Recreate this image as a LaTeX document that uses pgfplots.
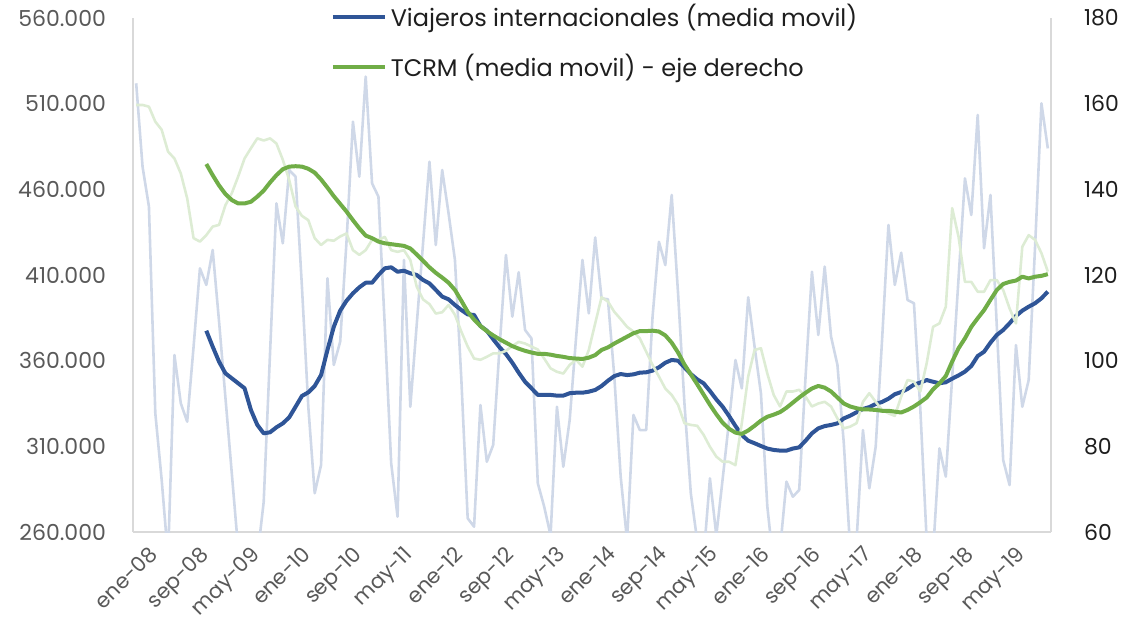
\documentclass[border=0pt]{standalone}
\usepackage{fontspec}
\setmainfont{Poppins}
\usepackage{pgfplots}
\pgfplotsset{compat=1.18}
\usepackage{pgfplotstable}

\definecolor{viaj}{RGB}{47,85,151}
\definecolor{tcrm}{RGB}{112,173,71}
\definecolor{viajraw}{RGB}{207,216,232}
\definecolor{tcrmraw}{RGB}{221,236,212}
\definecolor{axisgray}{RGB}{217,217,217}
\definecolor{ticktext}{RGB}{89,89,89}
\definecolor{legtext}{RGB}{30,30,30}

% monthly data, i = 0 is ene-08 ... i = 143 is dic-19
% v: viajeros internacionales, t: TCRM
\pgfplotstableread{
i v t
0 521900 159.7
1 473200 159.7
2 449900 159.3
3 329300 155.8
4 290400 153.9
5 245000 148.8
6 363300 147.2
7 335100 143.7
8 324400 137.9
9 368000 128.6
10 413900 127.8
11 404200 129.3
12 424600 131.3
13 382800 131.7
14 338400 136.3
15 294200 139.1
16 250000 143.0
17 232000 147.2
18 228000 149.6
19 245000 151.9
20 277500 151.4
21 364700 151.9
22 451800 150.7
23 428500 146.9
24 471300 142.2
25 467400 136.0
26 403200 133.8
27 333100 132.8
28 282600 128.6
29 299100 127.0
30 408100 128.2
31 357500 128.0
32 371100 129.0
33 430000 129.7
34 499500 125.8
35 467400 124.7
36 525800 125.8
37 463500 128.2
38 455700 128.2
39 380000 128.9
40 300100 125.8
41 268900 125.4
42 418800 125.8
43 333100 123.5
44 380800 117.3
45 428500 114.3
46 476100 113.2
47 427500 111.0
48 471300 111.3
49 446000 113.0
50 418800 110.7
51 349500 106.8
52 268000 103.3
53 263100 100.5
54 334100 100.2
55 301000 100.9
56 310800 101.7
57 367800 101.7
58 421700 102.3
59 385700 103.4
60 411600 104.4
61 377900 104.0
62 373000 103.3
63 288400 102.6
64 274800 100.5
65 258000 98.2
66 333100 97.4
67 298100 97.0
68 325400 99.0
69 373400 100.2
70 418800 98.6
71 387600 102.5
72 431900 108.7
73 396400 114.8
74 395800 113.8
75 350700 111.4
76 292300 109.7
77 255000 107.9
78 328300 106.8
79 319500 105.2
80 319500 102.1
81 385700 99.0
82 429400 96.3
83 415800 93.5
84 456700 92.0
85 399300 89.7
86 335100 85.4
87 282600 85.0
88 255000 84.8
89 245000 82.7
90 291300 79.9
91 258000 77.6
92 291100 76.4
93 324800 76.4
94 360400 75.6
95 343800 85.4
96 397000 96.3
97 368200 102.5
98 340900 102.9
99 275000 97.0
100 240000 92.0
101 250000 89.3
102 289400 92.8
103 280600 92.8
104 284500 93.2
105 350700 91.6
106 411900 89.3
107 375000 90.0
108 414900 90.4
109 374000 89.3
110 357500 86.5
111 311800 84.2
112 250000 84.6
113 255000 85.4
114 319500 90.4
115 285500 92.4
116 309800 90.4
117 372000 88.5
118 439200 87.7
119 404200 87.1
120 423000 91.6
121 395400 95.5
122 393500 95.1
123 331800 92.8
124 255000 99.4
125 248000 107.9
126 308800 108.7
127 292300 112.6
128 350300 135.6
129 408200 128.9
130 466400 118.4
131 445000 118.4
132 503400 116.1
133 425600 116.1
134 456700 118.8
135 379900 118.8
136 302000 116.5
137 287400 112.2
138 369100 108.7
139 333100 126.6
140 348700 129.3
141 426500 128.2
142 510200 125.1
143 483900 120.8
}\rawdata

% moving averages
\pgfplotstableread{
i mv mt
11 377500 145.9
12 368200 143.3
13 359400 140.9
14 352600 138.9
15 349700 137.5
16 346800 136.7
17 343900 136.7
18 331200 137.1
19 322500 138.3
20 317600 139.7
21 318200 141.6
22 321100 143.3
23 323400 144.7
24 326900 145.3
25 333100 145.4
26 339400 145.3
27 341500 144.8
28 345200 143.9
29 351600 142.3
30 366200 140.4
31 379800 138.4
32 389200 136.6
33 395000 134.8
34 399300 132.8
35 402800 130.9
36 405500 129.2
37 405500 128.6
38 410000 127.8
39 413900 127.4
40 414500 127.2
41 411900 127.0
42 412500 126.8
43 411000 126.2
44 410000 124.8
45 407100 123.3
46 405100 121.8
47 401300 120.5
48 397400 119.4
49 395800 118.2
50 392500 116.5
51 389600 114.0
52 387000 111.4
53 386700 109.6
54 380200 108.1
55 377500 106.9
56 372500 105.9
57 367800 105.0
58 363900 104.2
59 358800 103.4
60 353000 102.8
61 347700 102.3
62 343900 101.9
63 340000 101.6
64 340000 101.6
65 340000 101.4
66 339600 101.1
67 339600 100.9
68 341000 100.6
69 341300 100.5
70 341300 100.4
71 341900 100.7
72 342900 101.3
73 345200 102.5
74 348300 103.1
75 351000 104.0
76 352200 104.8
77 351600 105.6
78 352000 106.4
79 353000 106.9
80 353200 106.9
81 354200 107.0
82 356100 106.8
83 358800 105.9
84 360400 104.2
85 360000 101.9
86 356100 99.1
87 352200 96.8
88 349100 94.5
89 346800 92.1
90 342300 89.7
91 337400 87.5
92 333100 85.5
93 327700 84.1
94 321900 83.2
95 316600 82.9
96 313300 83.7
97 311800 84.8
98 310200 86.0
99 308700 86.9
100 307900 87.4
101 307500 88.0
102 307500 89.0
103 308700 90.2
104 309400 91.4
105 313300 92.5
106 317600 93.5
107 320500 94.1
108 321800 93.7
109 322500 92.8
110 323400 91.4
111 326300 90.0
112 327900 89.3
113 329900 88.9
114 331800 88.6
115 332900 88.6
116 334700 88.5
117 335900 88.3
118 337800 88.3
119 340400 88.1
120 341700 87.9
121 343500 88.5
122 346000 89.3
123 347200 90.3
124 348700 91.4
125 347700 93.3
126 346800 94.7
127 347400 96.4
128 349500 99.8
129 351400 102.9
130 353600 105.2
131 356900 107.9
132 362700 109.9
133 365200 111.8
134 370500 114.2
135 375000 116.5
136 377900 117.9
137 381800 118.4
138 386100 118.7
139 389200 119.6
140 391500 119.2
141 393500 119.6
142 396400 119.8
143 400300 120.2
}\madata

\pgfplotsset{
  base/.style={
    scale only axis,
    width=459pt, height=257pt,
    xmin=-0.5, xmax=143.5,
    axis line style={axisgray, line width=0.8pt, -},
    major tick length=0pt,
    tick label style={font=\fontsize{11}{13}\selectfont},
    /pgf/number format/assume math mode=true,
  },
}

\begin{document}
\begin{tikzpicture}
\useasboundingbox (-66.5pt,-45pt) rectangle (498.5pt,266pt);

% left axis: viajeros
\begin{axis}[base,
    axis x line*=bottom, axis y line*=left,
    ymin=260000, ymax=560000,
    ytick={260000,310000,360000,410000,460000,510000,560000},
    scaled y ticks=false,
    yticklabel style={ticktext, anchor=east, xshift=-10pt,
      /pgf/number format/.cd, fixed, precision=0, 1000 sep={.}},
    xtick={0,8,...,136},
    xticklabels={ene-08,sep-08,may-09,ene-10,sep-10,may-11,ene-12,sep-12,may-13,
      ene-14,sep-14,may-15,ene-16,sep-16,may-17,ene-18,sep-18,may-19},
    x tick label style={ticktext, font=\fontsize{10.5}{12}\selectfont,
      rotate=45, anchor=north east, xshift=3pt, yshift=-5pt},
  ]
  \addplot[viajraw, line width=1.3pt, line join=round] table[x=i, y=v] {\rawdata};
  \addplot[viaj, line width=2pt, line join=round] table[x=i, y=mv] {\madata};
\end{axis}

% right axis: TCRM
\begin{axis}[base,
    axis y line*=right, hide x axis,
    ymin=60, ymax=180,
    ytick={60,80,...,180},
    yticklabel style={legtext, anchor=west, xshift=13pt},
    legend style={at={(0.215,1.035)}, anchor=north west, draw=none, fill=none,
      font=\fontsize{12}{14}\selectfont, text=legtext, row sep=8pt,
      inner sep=0pt},
    legend cell align=left,
    legend image code/.code={\draw[#1] (0pt,0pt) -- (26pt,0pt);},
  ]
  \addlegendimage{viaj, line width=2pt}
  \addlegendentry{Viajeros internacionales (media movil)}
  \addplot[tcrmraw, line width=1.3pt, line join=round, forget plot] table[x=i, y=t] {\rawdata};
  \addplot[tcrm, line width=2pt, line join=round] table[x=i, y=mt] {\madata};
  \addlegendentry{TCRM (media movil) - eje derecho}
\end{axis}
\end{tikzpicture}
\end{document}
